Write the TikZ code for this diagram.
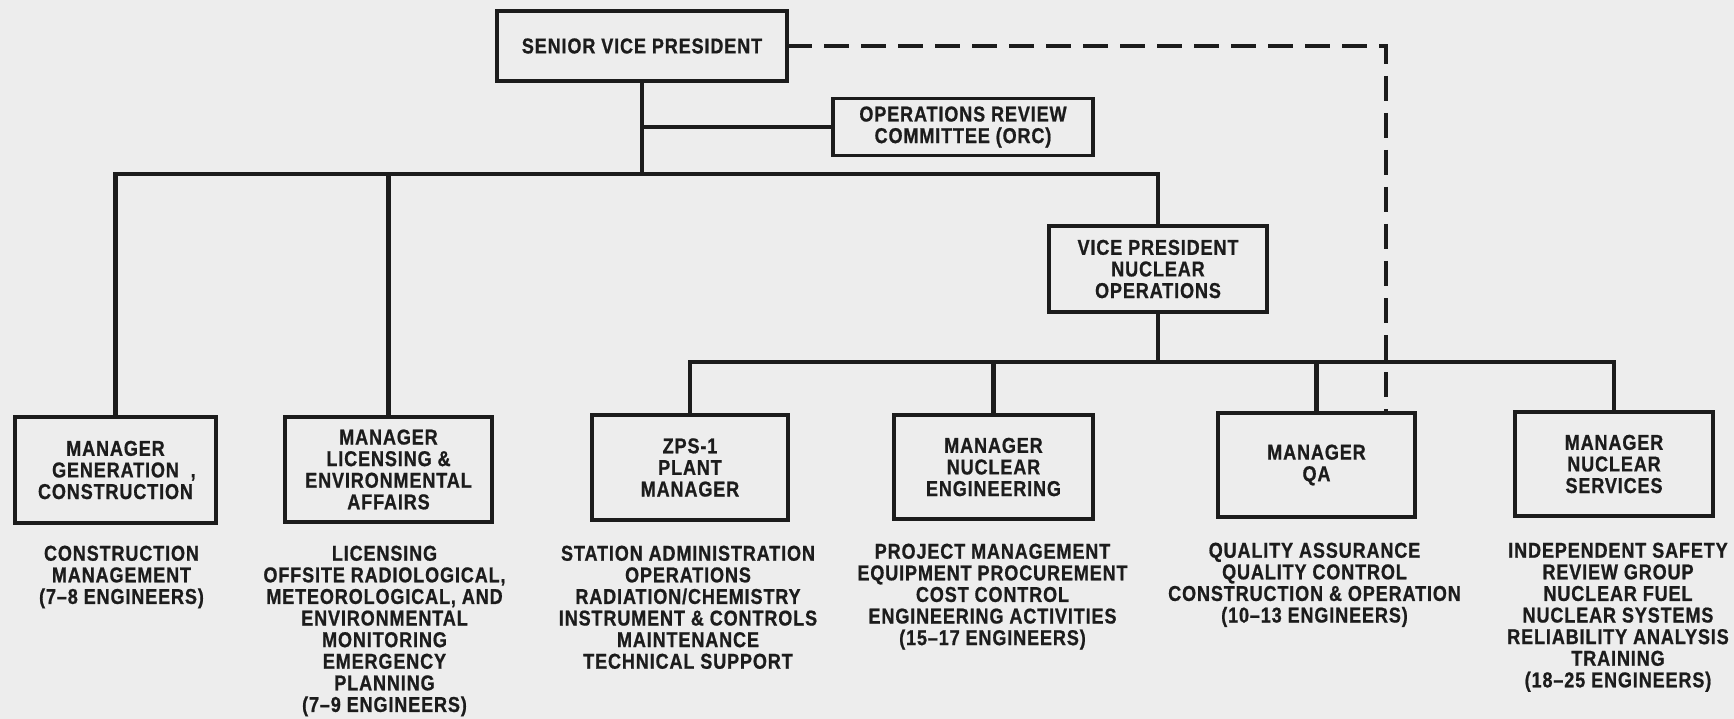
\documentclass[tikz,border=0pt]{standalone}
\usepackage{fontspec}
\setmainfont{Liberation Sans}[FakeStretch=0.84, LetterSpace=4, BoldFeatures={FakeBold=0.8}]
\definecolor{paper}{RGB}{237,237,237}
\definecolor{ink}{RGB}{28,28,28}
\begin{document}
\begin{tikzpicture}[x=1pt,y=-1pt,
  every node/.style={font=\bfseries\fontsize{21.5}{21.6}\selectfont, text=ink},
  orgbox/.style={draw=ink, line width=3.5pt, align=center, inner sep=0pt, outer sep=0pt},
  desc/.style={align=center, inner sep=0pt, anchor=north},
  conn/.style={draw=ink, line width=4.5pt, line join=miter},
  dashline/.style={draw=ink, line width=4pt, dash pattern=on 25pt off 12pt}]
% page
\fill[paper] (0,0) rectangle (1734,719);
\useasboundingbox (0,0) rectangle (1734,719);

% boxes
\node[orgbox, minimum width=290pt, minimum height=70pt] (svp) at (642,46) {SENIOR VICE PRESIDENT};
\node[orgbox, minimum width=260pt, minimum height=57pt] (orc) at (963,127) {OPERATIONS REVIEW\\COMMITTEE (ORC)};
\node[orgbox, minimum width=218pt, minimum height=86pt] (vp) at (1158,269) {VICE PRESIDENT\\NUCLEAR\\OPERATIONS};

\node[orgbox, minimum width=201pt, minimum height=106pt] (gen) at (115.5,470) {MANAGER\\GENERATION\rlap{\ \ ,}\\CONSTRUCTION};
\node[orgbox, minimum width=207pt, minimum height=105pt] (lic) at (388.5,469.5) {MANAGER\\LICENSING \&\\ENVIRONMENTAL\\AFFAIRS};
\node[orgbox, minimum width=196pt, minimum height=105pt] (zps) at (690,467.5) {ZPS-1\\PLANT\\MANAGER};
\node[orgbox, minimum width=199pt, minimum height=104pt] (neng) at (993.5,467) {MANAGER\\NUCLEAR\\ENGINEERING};
\node[orgbox, minimum width=197pt, minimum height=104pt] (qa) at (1316.5,465) {MANAGER\\QA};
\node[orgbox, minimum width=198pt, minimum height=104pt] (nsvc) at (1614,464) {MANAGER\\NUCLEAR\\SERVICES};

% duty lists under the boxes
\node[desc] (gendesc) at ([xshift=6pt,yshift=-22.5pt]gen.south) {CONSTRUCTION\\MANAGEMENT\\(7--8 ENGINEERS)};
\node[desc] (licdesc) at ([xshift=-4pt,yshift=-23.5pt]lic.south) {LICENSING\\OFFSITE RADIOLOGICAL,\\METEOROLOGICAL, AND\\ENVIRONMENTAL\\MONITORING\\EMERGENCY\\PLANNING\\(7--9 ENGINEERS)};
\node[desc] (zpsdesc) at ([xshift=-2pt,yshift=-25.5pt]zps.south) {STATION ADMINISTRATION\\OPERATIONS\\RADIATION/CHEMISTRY\\INSTRUMENT \& CONTROLS\\MAINTENANCE\\TECHNICAL SUPPORT};
\node[desc] (nengdesc) at ([xshift=-1pt,yshift=-24.5pt]neng.south) {PROJECT MANAGEMENT\\EQUIPMENT PROCUREMENT\\COST CONTROL\\ENGINEERING ACTIVITIES\\(15--17 ENGINEERS)};
\node[desc] (qadesc) at ([xshift=-2pt,yshift=-25.5pt]qa.south) {QUALITY ASSURANCE\\QUALITY CONTROL\\CONSTRUCTION \& OPERATION\\(10--13 ENGINEERS)};
\node[desc] (nsvcdesc) at ([xshift=4pt,yshift=-26.5pt]nsvc.south) {INDEPENDENT SAFETY\\REVIEW GROUP\\NUCLEAR FUEL\\NUCLEAR SYSTEMS\\RELIABILITY ANALYSIS\\TRAINING\\(18--25 ENGINEERS)};

% bus levels
\coordinate (mainbus) at (0,174);
\coordinate (lowbus) at (0,362);
\coordinate (qalink) at ([xshift=-29pt]qa.north east);

% solid reporting lines
\draw[conn] (svp.south) -- (svp.south |- mainbus);
\draw[conn] (svp.south |- orc.west) -- (orc.west);
\draw[conn] (gen.north) |- (mainbus -| vp.north) -- (vp.north);
\draw[conn] (lic.north) -- (lic.north |- mainbus);
\draw[conn] (vp.south) -- (vp.south |- lowbus);
\draw[conn] (zps.north) |- (lowbus -| nsvc.north) -- (nsvc.north);
\draw[conn] (neng.north) -- (neng.north |- lowbus);
\draw[conn] (qa.north) -- (qa.north |- lowbus);

% dashed line to QA
\draw[dashline] (svp.east) -| (qalink);
\end{tikzpicture}
\end{document}
